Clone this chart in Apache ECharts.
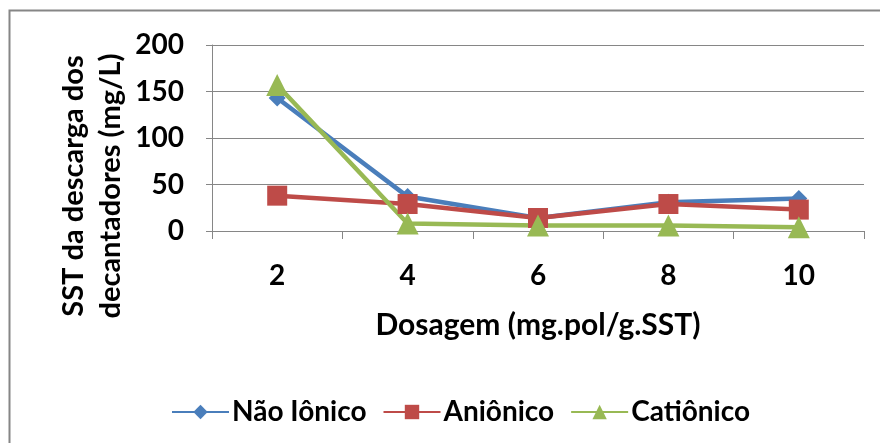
<!DOCTYPE html>
<html>
<head>
<meta charset="utf-8">
<script src="https://cdn.jsdelivr.net/npm/echarts@6/dist/echarts.min.js"></script>
<style>
  html, body { margin: 0; padding: 0; background: #fff; }
  #chart { width: 880px; height: 443px; }
</style>
</head>
<body>
<div id="chart"></div>
<script>
// Dosagem de polímero (mg.pol/g.SST)
const dosagens = ['2', '4', '6', '8', '10'];
// SST da descarga dos decantadores (mg/L) por tipo de polímero
const naoIonico = [143, 37, 14, 31, 35];
const anionico = [38, 29, 14, 29, 23];
const cationico = [157, 8, 6, 6, 4];
const yTicks = [0, 50, 100, 150, 200];

const FONT = 'Lato';
const FS = 28;
const AXIS_GRAY = '#868686';

const chart = echarts.init(document.getElementById('chart'));

function serie(name, data, color, symbol, size) {
  return {
    name, type: 'line', data,
    symbol, symbolSize: size,
    lineStyle: { color, width: 4.5 },
    itemStyle: { color },
    emphasis: { disabled: true },
    animation: false
  };
}

chart.setOption({
  animation: false,
  grid: { left: 212, right: 16, top: 45, bottom: 212 },
  graphic: [
    {
      type: 'rect',
      shape: { x: 9.5, y: 10.5, width: 900, height: 500 },
      style: { fill: 'none', stroke: AXIS_GRAY, lineWidth: 2 },
      silent: true
    },
    {
      type: 'text',
      x: 92, y: 186, rotation: Math.PI / 2,
      style: {
        text: 'SST da descarga dos\ndecantadores (mg/L)',
        font: `bold 29px ${FONT}`, fill: '#000',
        align: 'center', verticalAlign: 'middle', lineHeight: 37
      }
    }
  ],
  legend: {
    top: 393, left: 166,
    itemWidth: 57, itemHeight: 18, itemGap: 16,
    textStyle: { fontFamily: FONT, fontWeight: 'bold', fontSize: FS, color: '#000', padding: [0, 0, 0, -2] },
    data: ['Não Iônico', 'Aniônico', 'Catiônico']
  },
  xAxis: {
    type: 'category', data: dosagens, boundaryGap: true,
    name: 'Dosagem (mg.pol/g.SST)', nameLocation: 'middle', nameGap: 79,
    nameTextStyle: { fontFamily: FONT, fontWeight: 'bold', fontSize: 30, color: '#000' },
    axisLine: { lineStyle: { color: AXIS_GRAY, width: 1 } },
    axisTick: { show: true, length: 8, lineStyle: { color: AXIS_GRAY } },
    axisLabel: { margin: 31, fontFamily: FONT, fontWeight: 'bold', fontSize: FS, color: '#000' },
    splitLine: { show: false }
  },
  yAxis: {
    type: 'value', min: yTicks[0], max: yTicks[yTicks.length - 1], interval: 50,
    axisLine: { show: true, lineStyle: { color: AXIS_GRAY, width: 1 } },
    axisTick: { show: true, length: 6, lineStyle: { color: AXIS_GRAY } },
    axisLabel: { margin: 28, fontFamily: FONT, fontWeight: 'bold', fontSize: FS, color: '#000' },
    splitLine: { lineStyle: { color: AXIS_GRAY, width: 1 } }
  },
  series: [
    serie('Não Iônico', naoIonico, '#4a7ebb', 'diamond', 17),
    serie('Aniônico', anionico, '#be4b48', 'rect', 20),
    serie('Catiônico', cationico, '#98b954', 'triangle', 22)
  ]
});
</script>
</body>
</html>
